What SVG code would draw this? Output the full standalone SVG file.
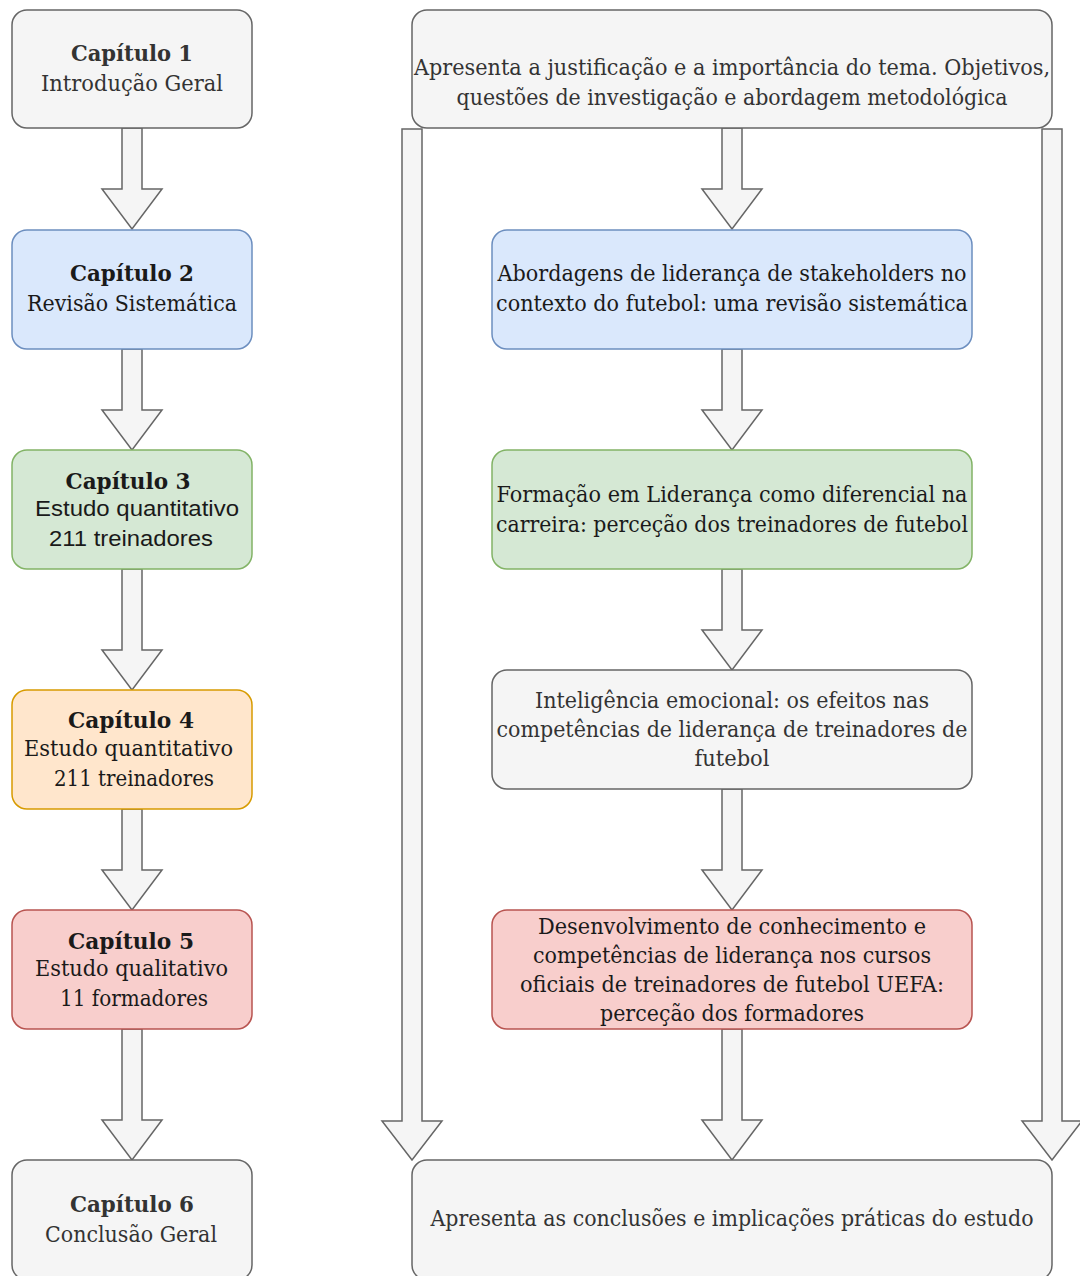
<svg xmlns="http://www.w3.org/2000/svg" width="1080" height="1276" viewBox="0 0 1080 1276">
  <defs>
    <style>
      .box { stroke-width: 1.5; }
      .gray { fill: #f5f5f5; stroke: #666666; }
      .blue { fill: #dae8fc; stroke: #6c8ebf; }
      .green { fill: #d5e8d4; stroke: #82b366; }
      .orange { fill: #ffe6cc; stroke: #d79b00; }
      .red { fill: #f8cecc; stroke: #b85450; }
      .arrow { fill: #f5f5f5; stroke: #666666; stroke-width: 1.5; stroke-linejoin: miter; }
      text { font-family: "DejaVu Serif", "Liberation Serif", serif; font-size: 21.5px; fill: #1a1a1a; }
      .muted { fill: #333333; }
      .title { font-weight: bold; font-size: 22px; }
      .sans { font-family: "Liberation Sans", Arial, sans-serif; font-size: 22px; }
    </style>
  </defs>
  <rect width="1080" height="1276" fill="#ffffff"/>

  <!-- block arrows between the stages -->
  <g id="connectors">
    <!-- left column -->
    <path class="arrow" d="M122,128 L142,128 L142,189 L162,189 L132,229 L102,189 L122,189 Z"/>
    <path class="arrow" d="M122,349 L142,349 L142,410 L162,410 L132,450 L102,410 L122,410 Z"/>
    <path class="arrow" d="M122,569 L142,569 L142,650 L162,650 L132,690 L102,650 L122,650 Z"/>
    <path class="arrow" d="M122,809 L142,809 L142,870 L162,870 L132,910 L102,870 L122,870 Z"/>
    <path class="arrow" d="M122,1029 L142,1029 L142,1120 L162,1120 L132,1160 L102,1120 L122,1120 Z"/>
    <!-- middle column -->
    <path class="arrow" d="M722,128 L742,128 L742,189 L762,189 L732,229 L702,189 L722,189 Z"/>
    <path class="arrow" d="M722,349 L742,349 L742,410 L762,410 L732,450 L702,410 L722,410 Z"/>
    <path class="arrow" d="M722,569 L742,569 L742,630 L762,630 L732,670 L702,630 L722,630 Z"/>
    <path class="arrow" d="M722,789 L742,789 L742,870 L762,870 L732,910 L702,870 L722,870 Z"/>
    <path class="arrow" d="M722,1029 L742,1029 L742,1120 L762,1120 L732,1160 L702,1120 L722,1120 Z"/>
    <!-- long side arrows -->
    <path class="arrow" d="M402,129 L422,129 L422,1121 L442,1121 L412,1160 L382,1121 L402,1121 Z"/>
    <path class="arrow" d="M1042,129 L1062,129 L1062,1121 L1082,1121 L1052,1160 L1022,1121 L1042,1121 Z"/>
  </g>

  <!-- chapter column -->
  <g id="cap1">
    <rect class="box gray" x="12" y="10" width="240" height="118" rx="15"/>
    <text class="title muted" x="132" y="61" text-anchor="middle" textLength="122" lengthAdjust="spacingAndGlyphs">Capítulo 1</text>
    <text class="muted" x="132" y="91" text-anchor="middle" textLength="182" lengthAdjust="spacingAndGlyphs">Introdução Geral</text>
  </g>
  <g id="cap2">
    <rect class="box blue" x="12" y="230" width="240" height="119" rx="15"/>
    <text class="title" x="132" y="281" text-anchor="middle" textLength="124" lengthAdjust="spacingAndGlyphs">Capítulo 2</text>
    <text x="132" y="311" text-anchor="middle" textLength="210" lengthAdjust="spacingAndGlyphs">Revisão Sistemática</text>
  </g>
  <g id="cap3">
    <rect class="box green" x="12" y="450" width="240" height="119" rx="15"/>
    <text class="title" x="128" y="489" text-anchor="middle" textLength="125" lengthAdjust="spacingAndGlyphs">Capítulo 3</text>
    <text class="sans" x="35" y="516" textLength="204" lengthAdjust="spacingAndGlyphs">Estudo quantitativo</text>
    <text class="sans" x="49" y="546" textLength="164" lengthAdjust="spacingAndGlyphs">211 treinadores</text>
  </g>
  <g id="cap4">
    <rect class="box orange" x="12" y="690" width="240" height="119" rx="15"/>
    <text class="title" x="131" y="728" text-anchor="middle" textLength="126" lengthAdjust="spacingAndGlyphs">Capítulo 4</text>
    <text x="24" y="756" textLength="209" lengthAdjust="spacingAndGlyphs">Estudo quantitativo</text>
    <text x="54" y="786" textLength="160" lengthAdjust="spacingAndGlyphs">211 treinadores</text>
  </g>
  <g id="cap5">
    <rect class="box red" x="12" y="910" width="240" height="119" rx="15"/>
    <text class="title" x="131" y="949" text-anchor="middle" textLength="126" lengthAdjust="spacingAndGlyphs">Capítulo 5</text>
    <text x="35" y="976" textLength="193" lengthAdjust="spacingAndGlyphs">Estudo qualitativo</text>
    <text x="60" y="1006" textLength="148" lengthAdjust="spacingAndGlyphs">11 formadores</text>
  </g>
  <g id="cap6">
    <rect class="box gray" x="12" y="1160" width="240" height="120" rx="15"/>
    <text class="title muted" x="132" y="1212" text-anchor="middle" textLength="124" lengthAdjust="spacingAndGlyphs">Capítulo 6</text>
    <text class="muted" x="131" y="1242" text-anchor="middle" textLength="172" lengthAdjust="spacingAndGlyphs">Conclusão Geral</text>
  </g>

  <!-- description column -->
  <g id="intro">
    <rect class="box gray" x="412" y="10" width="640" height="118" rx="15"/>
    <text class="muted" x="732" y="75" text-anchor="middle" textLength="636" lengthAdjust="spacingAndGlyphs">Apresenta a justificação e a importância do tema. Objetivos,</text>
    <text class="muted" x="732" y="105" text-anchor="middle" textLength="551" lengthAdjust="spacingAndGlyphs">questões de investigação e abordagem metodológica</text>
  </g>
  <g id="revisao">
    <rect class="box blue" x="492" y="230" width="480" height="119" rx="15"/>
    <text x="732" y="281" text-anchor="middle" textLength="469" lengthAdjust="spacingAndGlyphs">Abordagens de liderança de stakeholders no</text>
    <text x="732" y="311" text-anchor="middle" textLength="472" lengthAdjust="spacingAndGlyphs">contexto do futebol: uma revisão sistemática</text>
  </g>
  <g id="formacao">
    <rect class="box green" x="492" y="450" width="480" height="119" rx="15"/>
    <text x="732" y="502" text-anchor="middle" textLength="471" lengthAdjust="spacingAndGlyphs">Formação em Liderança como diferencial na</text>
    <text x="732" y="532" text-anchor="middle" textLength="472" lengthAdjust="spacingAndGlyphs">carreira: perceção dos treinadores de futebol</text>
  </g>
  <g id="inteligencia">
    <rect class="box gray" x="492" y="670" width="480" height="119" rx="15"/>
    <text class="muted" x="732" y="708" text-anchor="middle" textLength="394" lengthAdjust="spacingAndGlyphs">Inteligência emocional: os efeitos nas</text>
    <text class="muted" x="732" y="737" text-anchor="middle" textLength="471" lengthAdjust="spacingAndGlyphs">competências de liderança de treinadores de</text>
    <text class="muted" x="732" y="766" text-anchor="middle" textLength="75" lengthAdjust="spacingAndGlyphs">futebol</text>
  </g>
  <g id="desenvolvimento">
    <rect class="box red" x="492" y="910" width="480" height="119" rx="15"/>
    <text x="732" y="934" text-anchor="middle" textLength="388" lengthAdjust="spacingAndGlyphs">Desenvolvimento de conhecimento e</text>
    <text x="732" y="963" text-anchor="middle" textLength="398" lengthAdjust="spacingAndGlyphs">competências de liderança nos cursos</text>
    <text x="732" y="992" text-anchor="middle" textLength="424" lengthAdjust="spacingAndGlyphs">oficiais de treinadores de futebol UEFA:</text>
    <text x="732" y="1021" text-anchor="middle" textLength="264" lengthAdjust="spacingAndGlyphs">perceção dos formadores</text>
  </g>
  <g id="conclusao">
    <rect class="box gray" x="412" y="1160" width="640" height="120" rx="15"/>
    <text class="muted" x="732" y="1226" text-anchor="middle" textLength="603" lengthAdjust="spacingAndGlyphs">Apresenta as conclusões e implicações práticas do estudo</text>
  </g>
</svg>
